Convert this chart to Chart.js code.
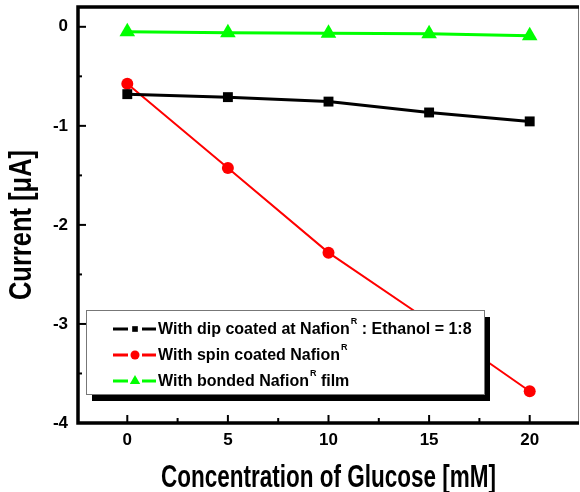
<!DOCTYPE html>
<html>
<head>
<meta charset="utf-8">
<script src="https://cdn.jsdelivr.net/npm/chart.js@4.4.0/dist/chart.umd.min.js"></script>
<style>
  html, body { margin: 0; padding: 0; background: #fff; }
  #wrap { width: 580px; height: 492px; }
</style>
</head>
<body>
<div id="wrap"><canvas id="c" width="580" height="492"></canvas></div>
<script>
// Glucose concentration (mM) and measured current (µA) for the three membrane preparations
const glucose    = [0, 5, 10, 15, 20];
const dipCoated  = [-0.68, -0.71, -0.755, -0.865, -0.955];
const spinCoated = [-0.575, -1.425, -2.28, -2.97, -3.68];
const bondedFilm = [-0.05, -0.06, -0.065, -0.07, -0.09];

const xTicks = [0, 5, 10, 15, 20];
const yTicks = [0, -1, -2, -3, -4];

// Legend labels: [text, superscript, text]
const seriesLabels = [
  ['With dip coated at Nafion', 'R', ' : Ethanol = 1:8'],
  ['With spin coated Nafion', 'R', ''],
  ['With bonded Nafion', 'R', ' film']
];

const xTitle = 'Concentration of Glucose [mM]';
const yTitle = 'Current [\u03BCA]';

const BOLD = "'Liberation Sans', Arial, sans-serif";

const toPoints = ys => glucose.map((x, i) => ({ x, y: ys[i] }));

// Frame with inward major/minor ticks
const framePlugin = {
  id: 'frame',
  beforeDatasetsDraw(chart) {
    const { ctx, chartArea: a, scales: { x, y } } = chart;
    ctx.save();
    ctx.strokeStyle = '#000';
    ctx.lineCap = 'butt';
    ctx.lineWidth = 2;
    xTicks.forEach((v, i) => {
      const px = x.getPixelForValue(v);
      ctx.beginPath(); ctx.moveTo(px, a.bottom); ctx.lineTo(px, a.bottom - 8); ctx.stroke();
      if (i < xTicks.length - 1) {
        const mx = x.getPixelForValue((v + xTicks[i + 1]) / 2);
        ctx.beginPath(); ctx.moveTo(mx, a.bottom); ctx.lineTo(mx, a.bottom - 5); ctx.stroke();
      }
    });
    yTicks.forEach((v, i) => {
      const py = y.getPixelForValue(v);
      ctx.beginPath(); ctx.moveTo(a.left, py); ctx.lineTo(a.left + 8, py); ctx.stroke();
      if (i < yTicks.length - 1) {
        const my = y.getPixelForValue((v + yTicks[i + 1]) / 2);
        ctx.beginPath(); ctx.moveTo(a.left, my); ctx.lineTo(a.left + 4, my); ctx.stroke();
      }
    });
    // right edge: thin grey
    ctx.strokeStyle = '#777';
    ctx.lineWidth = 1;
    ctx.beginPath(); ctx.moveTo(a.right - 0.5, a.top); ctx.lineTo(a.right - 0.5, a.bottom); ctx.stroke();
    // left, top, bottom: heavy black
    ctx.strokeStyle = '#000';
    ctx.lineWidth = 3.5;
    ctx.beginPath();
    ctx.moveTo(a.right, a.top); ctx.lineTo(a.left, a.top);
    ctx.lineTo(a.left, a.bottom); ctx.lineTo(a.right, a.bottom);
    ctx.stroke();
    ctx.restore();
  }
};

// Boxed legend with drop shadow, drawn over the plot
const legendPlugin = {
  id: 'boxLegend',
  afterDatasetsDraw(chart, args, o) {
    const { ctx } = chart;
    ctx.save();
    ctx.fillStyle = '#000';
    ctx.fillRect(o.left + 6, o.top + 7, o.width, o.height);
    ctx.fillStyle = '#fff';
    ctx.fillRect(o.left, o.top, o.width, o.height);
    ctx.strokeStyle = '#777';
    ctx.lineWidth = 1;
    ctx.strokeRect(o.left + 0.5, o.top + 0.5, o.width, o.height);

    chart.data.datasets.forEach((ds, i) => {
      const yy = o.top + o.firstRow + i * o.rowGap;
      const x0 = o.left + o.sampleStart;
      const xm = x0 + 22;
      ctx.strokeStyle = ds.borderColor;
      ctx.lineWidth = 3;
      ctx.beginPath();
      ctx.moveTo(x0, yy); ctx.lineTo(xm - 7, yy);
      ctx.moveTo(xm + 7, yy); ctx.lineTo(x0 + 43, yy);
      ctx.stroke();
      ctx.fillStyle = ds.borderColor;
      Chart.helpers.drawPoint(ctx, { pointStyle: ds.pointStyle, radius: o.markerRadius[i], rotation: 0, borderWidth: 0 }, xm, yy);

      const [t1, sup, t2] = seriesLabels[i];
      let tx = o.left + o.textStart;
      ctx.fillStyle = '#000';
      ctx.textBaseline = 'middle';
      ctx.textAlign = 'left';
      ctx.font = "bold 16px " + BOLD;
      ctx.fillText(t1, tx, yy + 1);
      tx += ctx.measureText(t1).width + 1;
      ctx.font = "bold 9px " + BOLD;
      ctx.fillText(sup, tx, yy - 7);
      tx += ctx.measureText(sup).width;
      ctx.font = "bold 16px " + BOLD;
      if (t2) ctx.fillText(t2, tx, yy + 1);
    });
    ctx.restore();
  }
};

// Axis titles (tall bold lettering)
const titlePlugin = {
  id: 'axisTitles',
  afterDraw(chart) {
    const { ctx, chartArea: a } = chart;
    ctx.save();
    ctx.fillStyle = '#000';
    ctx.textAlign = 'center';
    ctx.textBaseline = 'middle';
    ctx.font = "bold 22.5px " + BOLD;
    ctx.translate((a.left + a.right) / 2, 478);
    ctx.scale(1, 1.38);
    ctx.fillText(xTitle, 0, 0);
    ctx.restore();

    ctx.save();
    ctx.fillStyle = '#000';
    ctx.textAlign = 'center';
    ctx.textBaseline = 'middle';
    ctx.font = "bold 25.5px " + BOLD;
    ctx.translate(22, 225);
    ctx.rotate(-Math.PI / 2);
    ctx.scale(1, 1.25);
    ctx.fillText(yTitle, 0, 0);
    ctx.restore();
  }
};

const tickFont = { family: BOLD, size: 17, weight: 'bold' };

const noPadding = s => { s.paddingTop = 0; s.paddingBottom = 0; s.paddingLeft = 0; s.paddingRight = 0; };

new Chart(document.getElementById('c'), {
  type: 'scatter',
  data: {
    datasets: [
      {
        label: seriesLabels[0].join(''),
        data: toPoints(dipCoated),
        showLine: true,
        borderColor: '#000000',
        backgroundColor: '#000000',
        borderWidth: 3,
        pointStyle: 'rect',
        pointRadius: 7,
        pointHoverRadius: 7,
        pointBorderWidth: 0
      },
      {
        label: seriesLabels[1].join(''),
        data: toPoints(spinCoated),
        showLine: true,
        borderColor: '#ff0000',
        backgroundColor: '#ff0000',
        borderWidth: 2,
        pointStyle: 'circle',
        pointRadius: 6,
        pointHoverRadius: 6,
        pointBorderWidth: 0
      },
      {
        label: seriesLabels[2].join(''),
        data: toPoints(bondedFilm),
        showLine: true,
        borderColor: '#00ff00',
        backgroundColor: '#00ff00',
        borderWidth: 3,
        pointStyle: 'triangle',
        pointRadius: 9,
        pointHoverRadius: 9,
        pointBorderWidth: 0
      }
    ]
  },
  options: {
    responsive: false,
    animation: false,
    devicePixelRatio: 1,
    layout: { autoPadding: false, padding: { left: 0, right: 1, top: 7, bottom: 0 } },
    plugins: {
      legend: { display: false },
      tooltip: { enabled: false },
      boxLegend: {
        left: 86, top: 310, width: 398, height: 84,
        firstRow: 19, rowGap: 26,
        sampleStart: 27, textStart: 72,
        markerRadius: [4, 4.5, 6]
      }
    },
    scales: {
      x: {
        type: 'linear',
        min: -2.45,
        max: 22.45,
        grid: { display: false, drawTicks: false, tickLength: 0 },
        border: { display: false },
        afterBuildTicks: s => { s.ticks = xTicks.map(v => ({ value: v })); },
        afterFit: s => { s.height = 69; noPadding(s); },
        ticks: { font: tickFont, color: '#000', padding: 7, callback: v => String(v) }
      },
      y: {
        type: 'linear',
        min: -4,
        max: 0.2,
        grid: { display: false, drawTicks: false, tickLength: 0 },
        border: { display: false },
        afterBuildTicks: s => { s.ticks = yTicks.map(v => ({ value: v })); },
        afterFit: s => { s.width = 78; noPadding(s); },
        ticks: { font: tickFont, color: '#000', padding: 10, callback: v => String(v) }
      }
    }
  },
  plugins: [framePlugin, legendPlugin, titlePlugin]
});
</script>
</body>
</html>
